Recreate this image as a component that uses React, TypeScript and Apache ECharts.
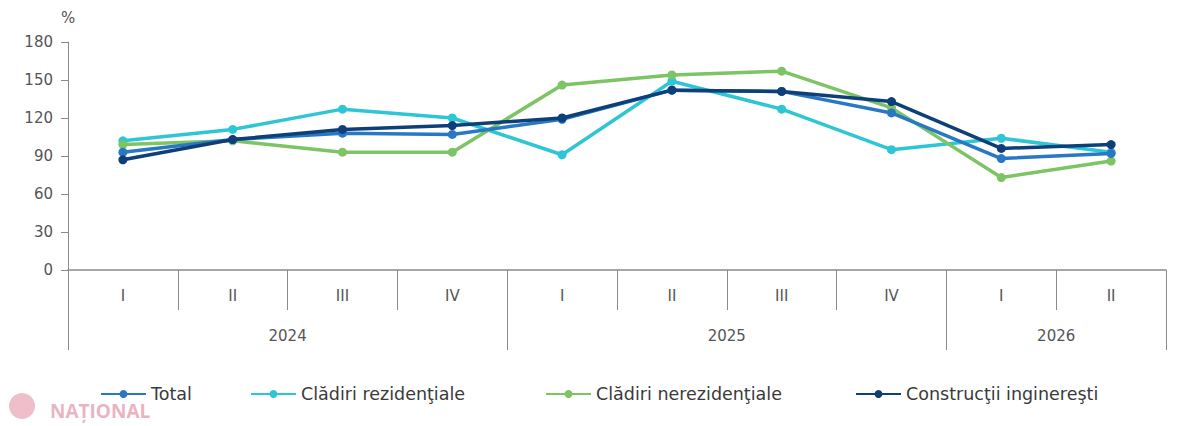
import React, { useEffect, useRef } from "react";
import * as echarts from "echarts";

const quarters = ["I", "II", "III", "IV", "I", "II", "III", "IV", "I", "II"];
const years = ["2024", "2025", "2026"];
const yearLabelPos = [2, 6, 9];
const yearBoundaries = [0, 4, 8, 10];

const total = [93, 103, 108, 107, 119, 142, 141, 124, 88, 92];
const residential = [102, 111, 127, 120, 91, 149, 127, 95, 104, 93];
const nonResidential = [99, 102, 93, 93, 146, 154, 157, 128, 73, 86];
const engineering = [87, 103, 111, 114, 120, 142, 141, 133, 96, 99];

const seriesNames = [
  "Total",
  "Clădiri rezidenţiale",
  "Clădiri nerezidenţiale",
  "Construcţii inginereşti",
];
const colors = ["#2878c4", "#2ec6d4", "#7cc464", "#0f3f78"];
const legendLefts = [95, 245, 540, 850];
const yTicks = [0, 30, 60, 90, 120, 150, 180];

const FONT = "'DejaVu Sans', 'Open Sans', sans-serif";

export default function App() {
  const ref = useRef<HTMLDivElement>(null);
  useEffect(() => {
    if (!ref.current) return;
    const chart = echarts.init(ref.current, null, { renderer: "svg" });
    const data = [total, residential, nonResidential, engineering];
    chart.setOption({
      animation: false,
      backgroundColor: "#ffffff",
      textStyle: { fontFamily: FONT },
      grid: { left: 68, right: 34, top: 42, bottom: 156, containLabel: false },
      legend: seriesNames.map((n, i) => ({
        left: legendLefts[i],
        top: 380,
        itemWidth: 45,
        itemHeight: 10,
        itemGap: 4,
        textStyle: { fontFamily: FONT, fontSize: 17.5, color: "#3a3a3a" },
        data: [n],
      })),
      xAxis: [
        {
          type: "category",
          data: quarters,
          boundaryGap: true,
          axisLine: { show: true, lineStyle: { color: "#8a8a8a", width: 1.5 } },
          axisTick: { show: true, length: 40, interval: 0, lineStyle: { color: "#8a8a8a", width: 1 } },
          axisLabel: { interval: 0, margin: 18, fontSize: 15, color: "#555", fontFamily: FONT },
          splitLine: { show: false },
        },
        {
          type: "value",
          min: 0,
          max: 10,
          position: "bottom",
          axisLine: { show: false },
          axisTick: {
            show: true,
            length: 80,
            customValues: yearBoundaries,
            lineStyle: { color: "#8a8a8a", width: 1 },
          },
          axisLabel: {
            show: true,
            customValues: yearLabelPos,
            margin: 58,
            fontSize: 15,
            color: "#555",
            fontFamily: FONT,
            formatter: (v: number) => years[yearLabelPos.indexOf(Math.round(v))] ?? "",
          },
          splitLine: { show: false },
        },
      ],
      yAxis: {
        type: "value",
        min: 0,
        max: 180,
        interval: 30,
        name: "%",
        nameLocation: "end",
        nameGap: 17,
        nameTextStyle: { fontSize: 15, color: "#555", fontFamily: FONT, align: "center" },
        axisLine: { show: true, lineStyle: { color: "#8a8a8a", width: 1 } },
        axisTick: { show: true, length: 7, lineStyle: { color: "#8a8a8a" } },
        axisLabel: {
          fontSize: 15,
          color: "#555",
          margin: 15,
          fontFamily: FONT,
          formatter: (v: number) => (yTicks.includes(v) ? String(v) : ""),
        },
        splitLine: { show: false },
      },
      series: data.map((d, i) => ({
        name: seriesNames[i],
        type: "line",
        xAxisIndex: 0,
        data: d,
        symbol: "circle",
        symbolSize: 9,
        lineStyle: { width: 3.5, color: colors[i] },
        itemStyle: { color: colors[i] },
        z: 2 + (i === 0 ? 3 : i === 3 ? 4 : i),
      })),
      graphic: [
        {
          type: "circle",
          shape: { cx: 22, cy: 406, r: 13 },
          style: { fill: "#e7a3b3", opacity: 0.7 },
          silent: true,
          z: -1,
        },
        {
          type: "text",
          left: 50,
          top: 401,
          z: -1,
          style: {
            text: "NAȚIONAL",
            fill: "#e39aab",
            opacity: 0.75,
            font: "bold 19px 'Open Sans', sans-serif",
          },
          silent: true,
        },
      ],
    });
    return () => chart.dispose();
  }, []);
  return (
    <div
      ref={ref}
      style={{ position: "fixed", left: 0, top: 0, width: 1200, height: 426 }}
    />
  );
}
